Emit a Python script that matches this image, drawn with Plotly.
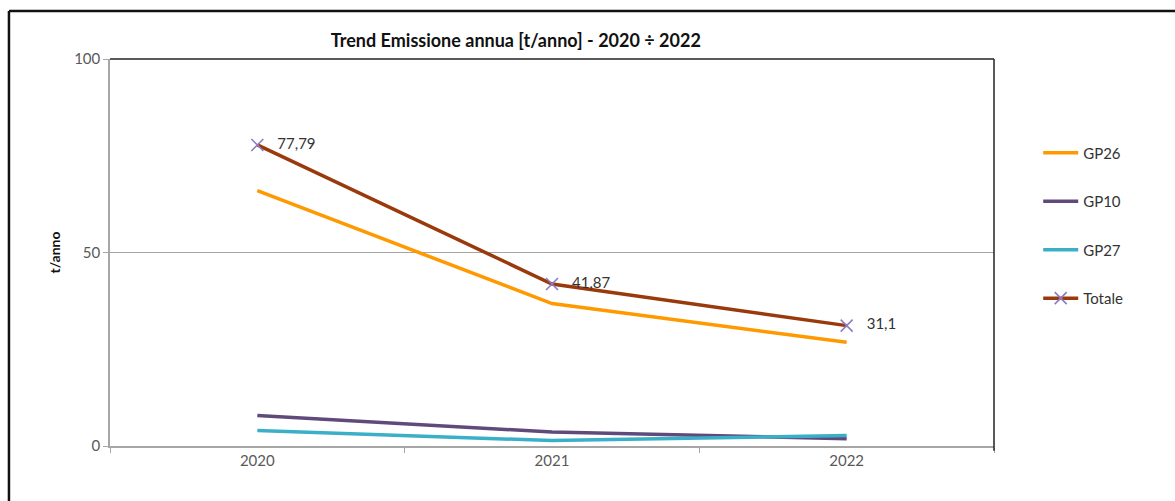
import plotly.graph_objects as go

# Annual emissions by emission point, t/anno
anni = ["2020", "2021", "2022"]
gp26 = [66.0, 36.8, 26.8]
gp10 = [7.9, 3.6, 1.9]
gp27 = [4.0, 1.4, 2.7]
totale = [77.79, 41.87, 31.1]
etichette_totale = ["77,79", "41,87", "31,1"]

font_base = "Lato, 'Open Sans', sans-serif"

fig = go.Figure()
fig.add_trace(go.Scatter(x=anni, y=gp26, name="GP26", mode="lines", legendgroup="a",
                         line=dict(color="#FF9900", width=3.5)))
fig.add_trace(go.Scatter(x=anni, y=gp10, name="GP10", mode="lines", legendgroup="b",
                         line=dict(color="#604A7B", width=3.5)))
fig.add_trace(go.Scatter(x=anni, y=gp27, name="GP27", mode="lines", legendgroup="c",
                         line=dict(color="#3BAFC8", width=3.5)))
fig.add_trace(go.Scatter(x=anni, y=totale, name="Totale", mode="lines+markers+text",
                         legendgroup="d",
                         line=dict(color="#9A3A0C", width=3.5),
                         marker=dict(symbol="x-thin", size=12,
                                     line=dict(color="#8E7CC3", width=1.6)),
                         text=["   " + t for t in etichette_totale],
                         textposition="middle right",
                         textfont=dict(size=15, color="#333333", family=font_base)))

# outer frame (top and left edges)
fig.add_shape(type="line", xref="paper", yref="paper",
              x0=-0.1143, x1=1.21, y0=1.124, y1=1.124,
              line=dict(color="#111111", width=2.5))
fig.add_shape(type="line", xref="paper", yref="paper",
              x0=-0.1143, x1=-0.1143, y0=1.124, y1=-0.15,
              line=dict(color="#111111", width=2.5))
# plot area top and right edges
fig.add_shape(type="line", xref="paper", yref="paper",
              x0=0, x1=1, y0=1, y1=1, line=dict(color="#222222", width=1.5))
fig.add_shape(type="line", xref="paper", yref="paper",
              x0=1, x1=1, y0=1, y1=-0.012, line=dict(color="#222222", width=1.5))

fig.update_layout(
    width=1175, height=501,
    margin=dict(l=110, r=181, t=59, b=55),
    paper_bgcolor="white", plot_bgcolor="white",
    font=dict(family=font_base, size=14, color="#595959"),
    title=dict(text="<b>Trend Emissione annua [t/anno] - 2020 ÷ 2022</b>",
               x=0.439, xanchor="center", y=0.918, yanchor="middle",
               font=dict(size=18, color="#111111", family=font_base)),
    showlegend=True,
    legend=dict(x=1.05, y=0.80, xanchor="left", yanchor="top",
                font=dict(size=15, color="#333333", family=font_base),
                tracegroupgap=26, itemwidth=35, bgcolor="rgba(0,0,0,0)",
                traceorder="grouped"),
    xaxis=dict(type="category", range=[-0.5, 2.5], showgrid=False,
               showline=True, linecolor="#A6A6A6", linewidth=1.5,
               ticks="outside", tickson="boundaries", ticklen=5,
               tickcolor="#A6A6A6", tickfont=dict(size=15, color="#595959"),
               zeroline=False),
    yaxis=dict(range=[0, 100], tickvals=[0, 50, 100],
               showgrid=True, gridcolor="#A6A6A6", gridwidth=1.2,
               showline=True, linecolor="#A6A6A6", linewidth=1.5,
               ticks="outside", ticklen=5, tickcolor="#A6A6A6",
               tickfont=dict(size=15, color="#595959"), zeroline=False,
               title=dict(text="<b>t/anno</b>", standoff=10,
                          font=dict(size=14, color="#111111"))),
)

fig.write_html("out.html")
